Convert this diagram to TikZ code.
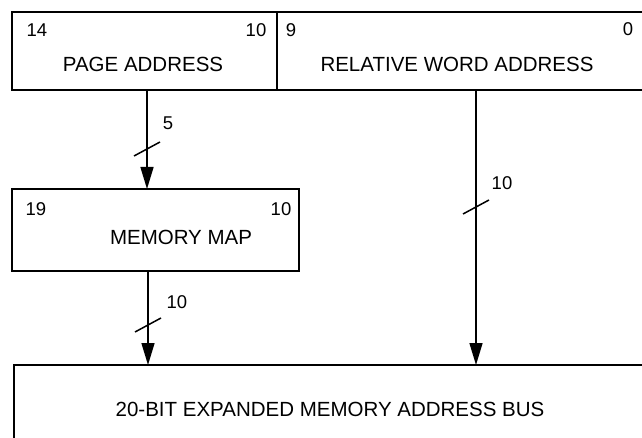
\documentclass[tikz,border=0pt]{standalone}
\usepackage{fontspec}
\setmainfont{Liberation Sans}
\usetikzlibrary{arrows.meta}
\begin{document}
\begin{tikzpicture}[x=1pt,y=-1pt,
  box/.style={draw,line width=2.6pt,inner sep=0pt,outer sep=0pt},
  title/.style={font=\fontsize{20.5}{22}\selectfont,inner sep=0pt},
  bitno/.style={font=\fontsize{18.5}{20}\selectfont,inner sep=0pt},
  bus/.style={line width=1.5pt,-{Triangle[length=22pt,width=13pt]}},
  tick/.style={line width=1.5pt}]
\useasboundingbox (0,0) rectangle (642,438);

% address register split into page field and word field
\node[box,minimum width=265pt,minimum height=78pt,anchor=north west] (page) at (12,12) {};
\node[box,minimum width=390pt,minimum height=78pt,anchor=north west] (word) at (277,12) {};
\node[bitno] (p14) at (37,30) {14};
\node[bitno] (p10) at (256,30) {10};
\node[bitno] (w9) at (291,30) {9};
\node[bitno] (w0) at (628,29) {0};
\node[title] (pt) at (143,64) {PAGE ADDRESS};
\node[title] (wt) at (457,64) {RELATIVE WORD ADDRESS};

% memory map
\node[box,minimum width=287pt,minimum height=82pt,anchor=north west] (map) at (12,189) {};
\node[bitno] (m19) at (36,209) {19};
\node[bitno] (m10) at (281,209) {10};
\node[title] (mt) at (181,237) {MEMORY MAP};

% expanded address bus
\node[box,minimum width=660pt,minimum height=100pt,anchor=north west] (exp) at (14,365) {};
\node[title] (et) at (330,409) {20-BIT EXPANDED MEMORY ADDRESS BUS};

% connection points on the box edges
\coordinate (a1) at (147,90);
\coordinate (b1) at (147,189);
\coordinate (a2) at (148,271);
\coordinate (b2) at (148,365);
\coordinate (a3) at (476,90);
\coordinate (b3) at (476,365);

\draw[bus] (a1) -- (b1);
\draw[bus] (a2) -- (b2);
\draw[bus] (a3) -- (b3);

% bus width marks
\coordinate (s1) at (147,149);
\coordinate (s2) at (148,325);
\coordinate (s3) at (476,207);
\draw[tick] ([shift={(-13,7)}]s1) -- ([shift={(13,-7)}]s1);
\draw[tick] ([shift={(-13,7)}]s2) -- ([shift={(13,-7)}]s2);
\draw[tick] ([shift={(-13,7)}]s3) -- ([shift={(13,-7)}]s3);
\node[bitno] (n1) at (168,123) {5};
\node[bitno] (n2) at (177,302) {10};
\node[bitno] (n3) at (502,183) {10};
\end{tikzpicture}
\end{document}
